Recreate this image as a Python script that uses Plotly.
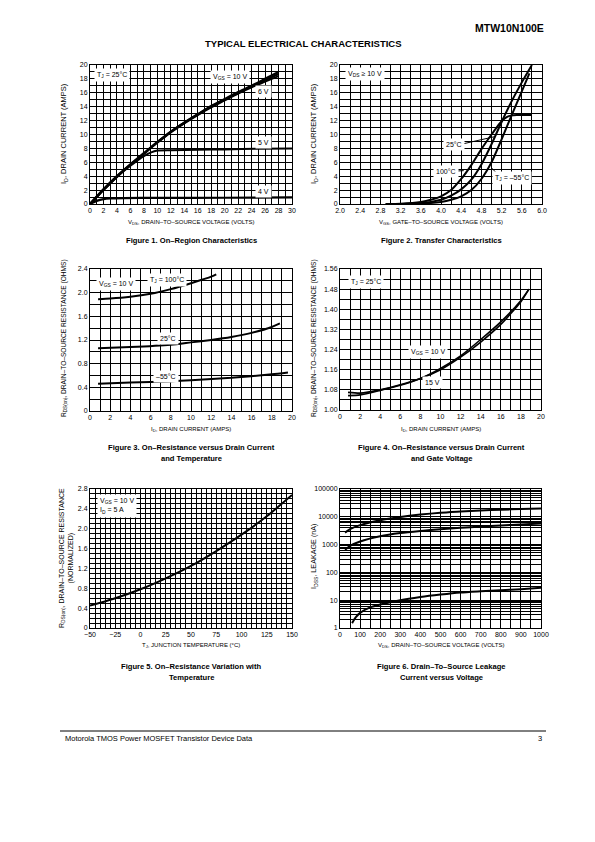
import plotly.graph_objects as go

W, H = 595, 842
FONT = "Liberation Sans, Arial, Helvetica, sans-serif"

# ---------------- data ----------------
# Figure 1: On-region characteristics (VDS volts, ID amps)
f1_vds_10 = [0, 2, 4, 6, 8, 10, 12, 14, 16, 18, 20, 22, 24, 26, 28]
f1_id_10 = [0, 2.1, 4.0, 5.7, 7.3, 8.9, 10.4, 11.7, 12.9, 14.1, 15.1, 16.1, 17.0, 18.0, 19.0]
f1_vds_8 = [0, 2, 4, 6, 8, 10, 12, 14, 16, 18, 20, 22, 24, 26, 28]
f1_id_8 = [0, 2.1, 4.0, 5.7, 7.3, 8.9, 10.4, 11.7, 12.9, 14.0, 15.0, 16.0, 16.9, 17.8, 18.7]
f1_vds_6 = [0, 2, 4, 6, 8, 10, 12, 14, 16, 18, 20, 22, 24, 26, 28]
f1_id_6 = [0, 2.0, 3.9, 5.6, 7.2, 8.8, 10.3, 11.6, 12.8, 13.9, 14.9, 15.9, 16.8, 17.6, 18.4]
f1_vds_5 = [0, 2, 4, 6, 8, 9, 10, 12, 16, 20, 25, 30]
f1_id_5 = [0, 2.0, 3.9, 5.5, 6.9, 7.4, 7.7, 7.75, 7.8, 7.85, 7.95, 8.0]
f1_vds_4 = [0, 1, 2, 3, 5, 10, 20, 30]
f1_id_4 = [0, 0.45, 0.7, 0.8, 0.85, 0.88, 0.9, 0.95]

# Figure 2: transfer characteristics (VGS volts, ID amps)
f2_vgs_100 = [2.9, 3.2, 3.6, 3.8, 4.0, 4.2, 4.4, 4.6, 4.8, 5.0, 5.1, 5.2, 5.3, 5.4, 5.5, 5.8]
f2_id_100 = [0, 0.05, 0.3, 0.6, 1.1, 2.0, 3.6, 5.6, 7.9, 10.0, 11.0, 11.9, 12.5, 12.75, 12.8, 12.8]
f2_vgs_25 = [3.0, 3.4, 3.8, 4.0, 4.2, 4.4, 4.6, 4.8, 5.0, 5.2, 5.4, 5.6, 5.8]
f2_id_25 = [0, 0.05, 0.3, 0.6, 1.2, 2.1, 3.5, 5.7, 8.6, 11.8, 14.8, 17.5, 20.0]
f2_vgs_m55 = [3.2, 3.6, 4.0, 4.2, 4.4, 4.6, 4.8, 5.0, 5.2, 5.4, 5.6, 5.75]
f2_id_m55 = [0, 0.05, 0.3, 0.6, 1.1, 2.0, 3.6, 6.0, 9.3, 12.8, 16.2, 18.8]

# Figure 3: on-resistance vs drain current and temperature
f3_id_100 = [0.8, 2, 4, 6, 8, 10, 12, 12.5]
f3_r_100 = [1.89, 1.9, 1.93, 1.98, 2.06, 2.16, 2.27, 2.31]
f3_id_25 = [0.8, 4, 8, 10, 12, 14, 16, 18, 18.8]
f3_r_25 = [1.06, 1.08, 1.12, 1.16, 1.2, 1.25, 1.32, 1.42, 1.48]
f3_id_m55 = [0.8, 4, 8, 10, 14, 18, 19.6]
f3_r_m55 = [0.46, 0.48, 0.5, 0.52, 0.56, 0.62, 0.65]

# Figure 4: on-resistance vs drain current and gate voltage
f4_id_10 = [0.8, 2, 4, 6, 8, 10, 12, 14, 16, 18, 18.8]
f4_r_10 = [1.07, 1.067, 1.08, 1.1, 1.125, 1.16, 1.21, 1.27, 1.34, 1.43, 1.48]
f4_id_15 = [0.8, 2, 4, 6, 8, 10, 12, 14, 16, 18, 18.8]
f4_r_15 = [1.057, 1.06, 1.078, 1.098, 1.125, 1.165, 1.215, 1.28, 1.35, 1.435, 1.48]

# Figure 5: normalized on-resistance vs junction temperature
f5_tj = [-50, -25, 0, 25, 50, 75, 100, 125, 150]
f5_r = [0.45, 0.6, 0.78, 1.0, 1.25, 1.55, 1.88, 2.25, 2.68]

# Figure 6: drain-to-source leakage (nA) vs VDS
f6_vds_125 = [25, 50, 100, 200, 300, 400, 500, 600, 700, 800, 900, 1000]
f6_i_125 = [2700, 3600, 5000, 7500, 9800, 12000, 14000, 15500, 17000, 18000, 19000, 20000]
f6_vds_100 = [25, 50, 100, 200, 300, 400, 500, 600, 700, 800, 900, 1000]
f6_i_100 = [650, 900, 1300, 2000, 2600, 3100, 3600, 4000, 4500, 4900, 5300, 5700]
f6_vds_25 = [60, 80, 100, 150, 200, 300, 400, 500, 600, 700, 800, 900, 1000]
f6_i_25 = [1.5, 2.5, 3.5, 5.5, 7, 10, 13, 16, 19, 21, 23, 25, 28]

# tick labels
f3_yticks = [0, 0.4, 0.8, 1.2, 1.6, 2.0, 2.4]
f3_ylabels = ["0", "0.4", "0.8", "1.2", "1.6", "2.0", "2.4"]
f5_yticks = [0, 0.4, 0.8, 1.2, 1.6, 2.0, 2.4, 2.8]
f5_ylabels = ["0", "0.4", "0.8", "1.2", "1.6", "2.0", "2.4", "2.8"]
f5_xticks = [-50, -25, 0, 25, 50, 75, 100, 125, 150]
f5_xlabels = ["−50", "−25", "0", "25", "50", "75", "100", "125", "150"]
f6_yticks = [1, 10, 100, 1000, 10000, 100000]
f6_ylabels = ["1", "10", "100", "1000", "10000", "100000"]
f6_minor = [m * 10 ** d for d in range(0, 5) for m in range(2, 10)]

# ---------------- layout helpers ----------------
def px_x(p):
    return p / W

def px_y(p):
    return 1 - p / H

boxes = {
    1: (90, 292, 65, 204),
    2: (340, 542, 65, 204),
    3: (90, 292, 269, 411),
    4: (340, 541, 269, 410),
    5: (90, 292, 489, 628),
    6: (340, 541, 489, 628),
}

fig = go.Figure()
LW = 2.0

def add(i, x, y, w=LW):
    fig.add_trace(go.Scatter(x=x, y=y, mode="lines", xaxis=f"x{i}", yaxis=f"y{i}",
                             line=dict(color="black", width=w, shape="spline", smoothing=0.6),
                             showlegend=False, hoverinfo="skip"))

add(1, f1_vds_6, f1_id_6)
add(1, f1_vds_8, f1_id_8)
add(1, f1_vds_10, f1_id_10, 2.4)
add(1, f1_vds_5, f1_id_5)
add(1, f1_vds_4, f1_id_4, 2.2)
add(2, f2_vgs_100, f2_id_100)
add(2, f2_vgs_25, f2_id_25)
add(2, f2_vgs_m55, f2_id_m55)
add(3, f3_id_100, f3_r_100)
add(3, f3_id_25, f3_r_25)
add(3, f3_id_m55, f3_r_m55)
add(4, f4_id_10, f4_r_10, 1.6)
add(4, f4_id_15, f4_r_15, 1.6)
add(5, f5_tj, f5_r)
add(6, f6_vds_125, f6_i_125)
add(6, f6_vds_100, f6_i_100)
add(6, f6_vds_25, f6_i_25)

tickfont = dict(family=FONT, size=7, color="black")

def axis(i, letter, **kw):
    x0, x1, y0, y1 = boxes[i]
    d = dict(showline=True, linecolor="black", linewidth=1, mirror=True,
             showgrid=True, gridcolor="black", gridwidth=1, zeroline=False,
             ticks="", tickfont=tickfont, fixedrange=True, automargin=False)
    if letter == "x":
        d["domain"] = [px_x(x0), px_x(x1)]
        d["anchor"] = f"y{i}"
    else:
        d["domain"] = [px_y(y1), px_y(y0)]
        d["anchor"] = f"x{i}"
    d.update(kw)
    return d

def minor(dt=None, vals=None):
    m = dict(showgrid=True, gridcolor="black", gridwidth=1, ticks="")
    if dt is not None:
        m["dtick"] = dt
    if vals is not None:
        m["tickvals"] = vals
    return m

layout = dict(
    width=W, height=H, margin=dict(l=0, r=0, t=0, b=0, autoexpand=False),
    paper_bgcolor="white", plot_bgcolor="white", showlegend=False,
    font=dict(family=FONT, color="black"),
)
layout["xaxis1"] = axis(1, "x", range=[0, 30], dtick=2, tick0=0, minor=minor(1))
layout["yaxis1"] = axis(1, "y", range=[0, 20], dtick=2, tick0=0, minor=minor(1))
layout["xaxis2"] = axis(2, "x", range=[2.0, 6.0], dtick=0.4, tick0=2.0, tickformat=".1f", minor=minor(0.2))
layout["yaxis2"] = axis(2, "y", range=[0, 20], dtick=2, tick0=0, minor=minor(1))
layout["xaxis3"] = axis(3, "x", range=[0, 20], dtick=2, tick0=0, minor=minor(1))
layout["yaxis3"] = axis(3, "y", range=[0, 2.4], tickvals=f3_yticks, ticktext=f3_ylabels, minor=minor(0.2))
layout["xaxis4"] = axis(4, "x", range=[0, 20], dtick=2, tick0=0, minor=minor(1))
layout["yaxis4"] = axis(4, "y", range=[1.0, 1.56], dtick=0.08, tick0=1.0, tickformat=".2f", minor=minor(0.04))
layout["xaxis5"] = axis(5, "x", range=[-50, 150], tickvals=f5_xticks, ticktext=f5_xlabels, minor=minor(5))
layout["yaxis5"] = axis(5, "y", range=[0, 2.8], tickvals=f5_yticks, ticktext=f5_ylabels, minor=minor(0.1))
layout["xaxis6"] = axis(6, "x", range=[0, 1000], dtick=100, tick0=0, minor=minor(50))
layout["yaxis6"] = axis(6, "y", type="log", range=[0, 5], tickvals=f6_yticks, ticktext=f6_ylabels,
                        minor=minor(vals=f6_minor))
fig.update_layout(**layout)

ann = []

def text(x, y, s, size=6, bold=False, xanchor="center", yanchor="middle", angle=0, align="center"):
    if bold:
        s = f"<b>{s}</b>"
    ann.append(dict(x=px_x(x), y=px_y(y), xref="paper", yref="paper", text=s, showarrow=False,
                    font=dict(family=FONT, size=size, color="black"), xanchor=xanchor,
                    yanchor=yanchor, textangle=angle, align=align))

LS = 7

def label(i, x, y, s, size=LS):
    ann.append(dict(x=x, y=y, xref=f"x{i}", yref=f"y{i}", text=s, showarrow=False,
                    font=dict(family=FONT, size=size, color="black"), bgcolor="white", borderpad=2,
                    xanchor="center", yanchor="middle"))

def pointer(i, x0, y0, x1, y1):
    ann.append(dict(x=x1, y=y1, ax=x0, ay=y0, xref=f"x{i}", yref=f"y{i}", axref=f"x{i}", ayref=f"y{i}",
                    text="", showarrow=True, arrowhead=0, arrowwidth=1, arrowcolor="black"))

# header / footer
text(546, 28, "MTW10N100E", size=10.5, bold=True, xanchor="right")
text(303, 44, "TYPICAL ELECTRICAL CHARACTERISTICS", size=9.5, bold=True)
text(63, 738, "Motorola TMOS Power MOSFET Transistor Device Data", size=7.5, xanchor="left")
text(540, 738, "3", size=7.5)

# figure captions
CS = 7.6
text(191, 240, "Figure 1. On–Region Characteristics", size=CS, bold=True)
text(441, 240, "Figure 2. Transfer Characteristics", size=CS, bold=True)
text(191, 447, "Figure 3. On–Resistance versus Drain Current", size=CS, bold=True)
text(191, 458, "and Temperature", size=CS, bold=True)
text(441, 447, "Figure 4. On–Resistance versus Drain Current", size=CS, bold=True)
text(441, 458, "and Gate Voltage", size=CS, bold=True)
text(191, 666, "Figure 5. On–Resistance Variation with", size=CS, bold=True)
text(191, 677, "Temperature", size=CS, bold=True)
text(441, 666, "Figure 6. Drain–To–Source Leakage", size=CS, bold=True)
text(441, 677, "Current versus Voltage", size=CS, bold=True)

# x-axis titles
XT = 6
text(191, 222, "V<sub>DS</sub>, DRAIN–TO–SOURCE VOLTAGE (VOLTS)", size=XT)
text(441, 222, "V<sub>GS</sub>, GATE–TO–SOURCE VOLTAGE (VOLTS)", size=XT)
text(191, 429, "I<sub>D</sub>, DRAIN CURRENT (AMPS)", size=XT)
text(441, 429, "I<sub>D</sub>, DRAIN CURRENT (AMPS)", size=XT)
text(191, 645, "T<sub>J</sub>, JUNCTION TEMPERATURE (°C)", size=XT)
text(441, 645, "V<sub>DS</sub>, DRAIN–TO–SOURCE VOLTAGE (VOLTS)", size=XT)

# y-axis titles
text(64, 134, "I<sub>D</sub>, DRAIN CURRENT (AMPS)", size=7.5, angle=-90)
text(314, 134, "I<sub>D</sub>, DRAIN CURRENT (AMPS)", size=7.5, angle=-90)
text(64, 338, "R<sub>DS(on)</sub>, DRAIN–TO–SOURCE RESISTANCE (OHMS)", size=6.6, angle=-90)
text(314, 338, "R<sub>DS(on)</sub>, DRAIN–TO–SOURCE RESISTANCE (OHMS)", size=6.6, angle=-90)
text(66, 558, "R<sub>DS(on)</sub>, DRAIN–TO–SOURCE RESISTANCE<br>(NORMALIZED)", size=7, angle=-90)
text(314, 556, "I<sub>DSS</sub>, LEAKAGE (nA)", size=7.2, angle=-90)

# in-plot labels
label(1, 3.3, 18.6, "T<sub>J</sub> = 25°C")
label(1, 20.8, 18.3, "V<sub>GS</sub> = 10 V")
label(1, 25.8, 16.2, "6 V")
label(1, 25.8, 8.9, "5 V")
label(1, 25.8, 1.8, "4 V")

label(2, 2.5, 18.7, "V<sub>DS</sub> ≥ 10 V")
pointer(2, 4.4, 8.6, 5.07, 9.7)
label(2, 4.26, 8.6, "25°C")
pointer(2, 4.2, 4.7, 4.45, 4.8)
label(2, 4.1, 4.7, "100°C")
pointer(2, 5.2, 3.7, 5.0, 5.2)
label(2, 5.4, 3.7, "T<sub>J</sub> = –55°C")

label(3, 2.6, 2.15, "V<sub>GS</sub> = 10 V")
label(3, 7.6, 2.22, "T<sub>J</sub> = 100°C")
label(3, 7.7, 1.22, "25°C")
label(3, 7.5, 0.58, "–55°C")

label(4, 2.6, 1.51, "T<sub>J</sub> = 25°C")
label(4, 8.8, 1.23, "V<sub>GS</sub> = 10 V")
label(4, 9.2, 1.11, "15 V")

ann.append(dict(x=-43, y=2.46, xref="x5", yref="y5", text="V<sub>GS</sub> = 10 V<br>I<sub>D</sub> = 5 A",
                showarrow=False, align="left", xanchor="left", yanchor="middle", bgcolor="white", borderpad=2,
                font=dict(family=FONT, size=LS, color="black")))

label(6, 114, 40000, "V<sub>GS</sub> = 0 V")
label(6, 502, 26000, "T<sub>J</sub> = 125°C")
label(6, 507, 1470, "100°C")
label(6, 505, 30, "25°C")

fig.update_layout(annotations=ann)
fig.add_shape(type="line", xref="paper", yref="paper", x0=px_x(60), x1=px_x(546), y0=px_y(731), y1=px_y(731),
              line=dict(color="black", width=1))

fig.write_html("out.html", config={"displayModeBar": False, "staticPlot": True},
               post_script="document.body.style.margin='0';")
